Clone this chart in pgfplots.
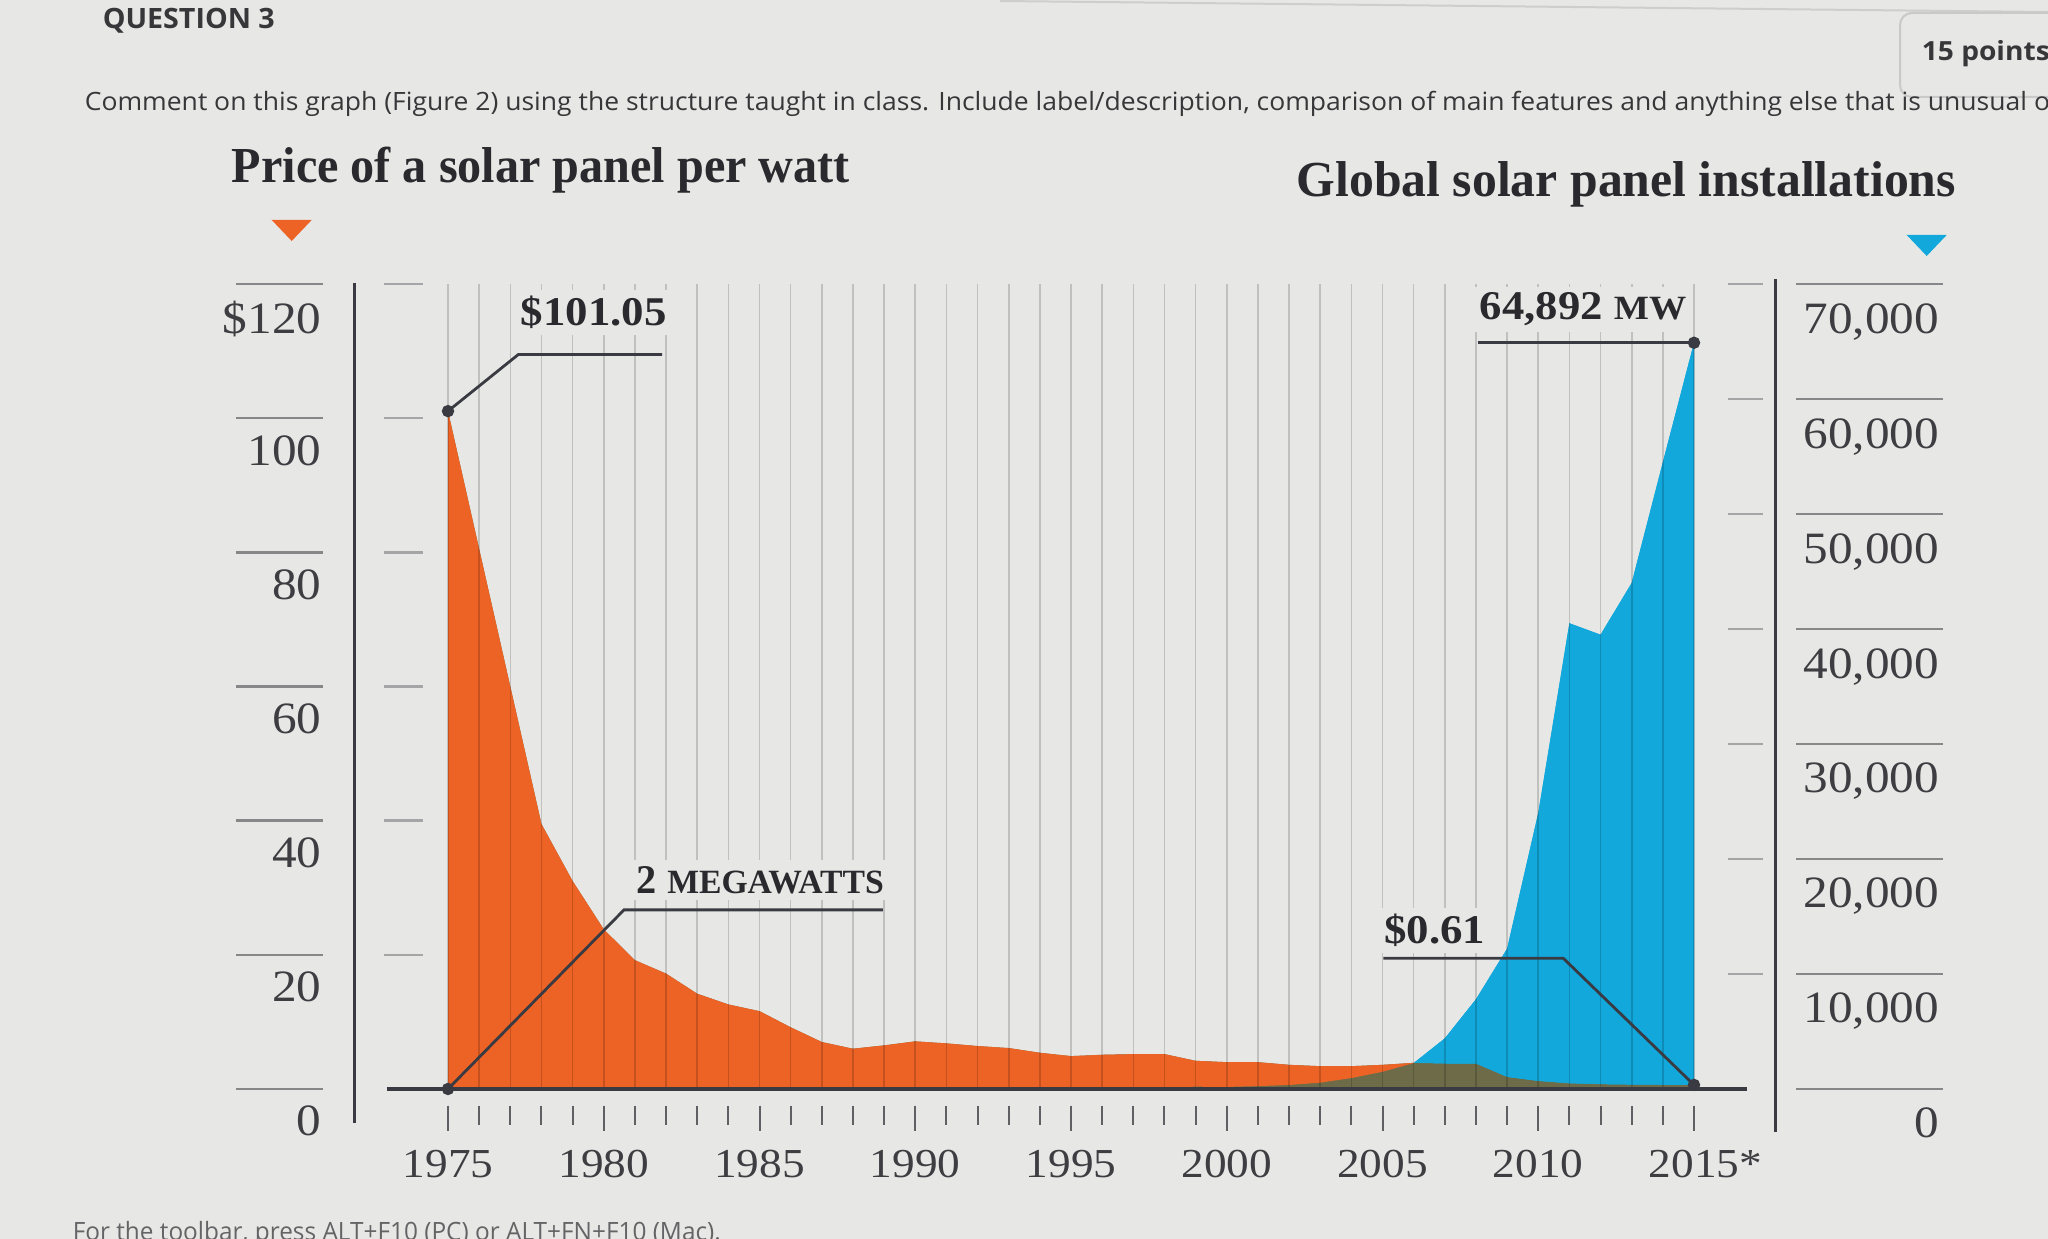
\documentclass[border=0pt]{standalone}
\usepackage{fontspec}
\setmainfont{Liberation Serif}
\newfontfamily\chartfont[FakeStretch=1.1]{Liberation Serif}
\newfontfamily\osans{Open Sans}
\usepackage{graphicx}
\usepackage{pgfplots}
\usepackage{pgfplotstable}
\usepgfplotslibrary{fillbetween}
\pgfplotsset{compat=1.18}

\definecolor{bg}{RGB}{231,232,230}
\definecolor{corange}{RGB}{237,99,37}
\definecolor{cblue}{RGB}{18,168,219}
\definecolor{colive}{RGB}{110,108,72}
\definecolor{cdark}{RGB}{58,58,66}
\definecolor{ctext}{RGB}{62,62,66}
\definecolor{ctitle}{RGB}{42,42,46}
\definecolor{ctick}{RGB}{135,135,138}
\definecolor{cmark}{RGB}{165,165,168}
\definecolor{cyear}{RGB}{95,95,100}
\definecolor{chead}{RGB}{55,55,58}

\pgfplotstableread{
year price mw
1975 101.05 2
1976 80.5 2.5
1977 60 3
1978 39.5 4
1979 31 5
1980 23.8 7
1981 19.2 8
1982 17.2 10
1983 14.2 13
1984 12.6 16
1985 11.6 20
1986 9.2 24
1987 7.0 28
1988 6.0 33
1989 6.5 40
1990 7.1 46
1991 6.8 55
1992 6.4 57
1993 6.1 60
1994 5.4 70
1995 4.9 80
1996 5.1 90
1997 5.2 125
1998 5.2 150
1999 4.2 200
2000 4.0 180
2001 4.0 250
2002 3.6 350
2003 3.4 550
2004 3.4 950
2005 3.6 1500
2006 3.9 2250
2007 3.8 4400
2008 3.8 7800
2009 1.8 12200
2010 1.2 24000
2011 0.85 40500
2012 0.72 39500
2013 0.66 44000
2014 0.63 54500
2015 0.61 64892
}\solardata

\begin{document}
\begin{tikzpicture}
\fill[bg] (0,0) rectangle (512pt,-309.75pt);

\begin{scope}[x=0.25pt,y=-0.25pt]
  \begin{scope}
  \clip (0,0) rectangle (2048,1239);
  % page furniture
  \draw[color={rgb,255:red,205;green,206;blue,205}, line width=0.5pt] (1000,1) -- (2048,12);
  \draw[color={rgb,255:red,200;green,201;blue,200}, line width=0.5pt, rounded corners=3pt]
     (2060,13) -- (1900,13) -- (1900,97) -- (2060,97);
  \node[anchor=base west, inner sep=0pt, text=chead] at (1921,61)
     {\resizebox{32pt}{\height}{\osans\bfseries\fontsize{6.6}{8}\selectfont 15 points}};
  \node[anchor=base west, inner sep=0pt, text=chead] at (84,111)
     {\resizebox{491.25pt}{\height}{\osans\fontsize{6.3}{8}\selectfont Comment on this graph (Figure 2) using the structure taught in class. Include label/description, comparison of main features and anything else that is unusual o}};
  \node[anchor=base west, inner sep=0pt, text={rgb,255:red,100;green,100;blue,102}] at (72,1241)
     {\resizebox{162pt}{\height}{\osans\fontsize{6.3}{8}\selectfont For the toolbar, press ALT+F10 (PC) or ALT+FN+F10 (Mac).}};
  \end{scope}
  \node[anchor=base west, inner sep=0pt, text=chead] at (102,29)
     {\resizebox{43pt}{\height}{\osans\bfseries\fontsize{7}{8}\selectfont QUESTION 3}};
  % titles
  \node[anchor=base west, inner sep=0pt, text=ctitle] at (231,183)
     {\resizebox{154.5pt}{\height}{\bfseries\fontsize{12.6}{14}\selectfont Price of a solar panel per watt}};
  \node[anchor=base west, inner sep=0pt, text=ctitle] at (1296,197)
     {\resizebox{164.75pt}{\height}{\bfseries\fontsize{12.6}{14}\selectfont Global solar panel installations}};
  % markers under titles
  \fill[corange] (271.7,220) -- (311.7,220) -- (291.7,241) -- cycle;
  \fill[cblue] (1906.7,235) -- (1946.7,235) -- (1926.7,256) -- cycle;
\end{scope}

% ---------- price axis (left) ----------
\begin{axis}[
  at={(88.6375pt,-272.25pt)}, anchor=south west,
  scale only axis, width=355.11pt, height=201.25pt,
  xmin=1972, xmax=2017.6, ymin=0, ymax=120,
  axis line style={draw=none},
  tick style={draw=none}, major tick length=0pt,
  xtick={1975,1980,...,2015},
  xticklabels={1975,1980,1985,1990,1995,2000,2005,2010,2015\rlap{*}},
  ytick={0,20,...,120},
  yticklabels={0,20,40,60,80,100,\$120},
  xticklabel style={anchor=north, inner sep=0pt, yshift=-15pt,
     font=\chartfont\fontsize{10.3}{12}\selectfont, text=ctext},
  yticklabel style={anchor=north east, inner sep=0pt, xshift=-8.1pt, yshift=-4.1pt,
     font=\chartfont\fontsize{11.2}{13}\selectfont, text=ctext},
  clip=false,
]
\addplot[draw=none, name path=P] table[x=year, y=price]{\solardata};
\addplot[draw=none, name path=B] table[x=year, y expr=\thisrow{mw}/583.3333]{\solardata};
\addplot[draw=none, name path=Z] coordinates {(1975,0) (2015,0)};
\addplot[fill=cblue, draw=none] fill between[of=B and Z, on layer=main];
\addplot[fill=colive, draw=none] fill between[of=P and Z, on layer=main];
\addplot[fill=corange, draw=none] fill between[of=P and B, split, on layer=main,
   every segment no 1/.style={fill=cblue}];

% year gridlines
\pgfplotsinvokeforeach{1975,...,2015}{
  \draw[black, opacity=0.17, line width=0.4pt] (axis cs:#1,0) -- (axis cs:#1,120);
}
% short marks inside the frame
\pgfplotsinvokeforeach{20,40,60,80,100,120}{
  \draw[cmark, line width=0.6pt] (axis cs:1972.95,#1) -- (axis cs:1974.2,#1);
}
% label rules on the left
\pgfplotsinvokeforeach{0,20,40,60,80,100,120}{
  \draw[ctick, line width=0.65pt] ([xshift=-29.7pt]axis cs:1972,#1) -- ([xshift=-7.95pt]axis cs:1972,#1);
}
% left axis line
\draw[cdark, line width=0.75pt] (axis cs:1972,120.2) -- (axis cs:1972,-5.1);
% baseline
\draw[cdark, line width=0.9pt] (axis cs:1973.03,0) -- (axis cs:2016.7,0);
% year ticks
\pgfplotsinvokeforeach{1975,...,2015}{
  \draw[cyear, line width=0.5pt] ([yshift=-4.15pt]axis cs:#1,0) -- ([yshift=-8.95pt]axis cs:#1,0);
}
\pgfplotsinvokeforeach{1975,1980,...,2015}{
  \draw[cyear, line width=0.5pt] ([yshift=-4.15pt]axis cs:#1,0) -- ([yshift=-10.6pt]axis cs:#1,0);
}

% annotation: $101.05
\addplot[cdark, line width=0.7pt] coordinates {(1975,101.05) (1977.26,109.5) (1981.87,109.5)};
\addplot[cdark, only marks, mark=*, mark size=1.35pt] coordinates {(1975,101.05)};
\node[anchor=base west, inner xsep=1.5pt, inner ysep=1.5pt, xshift=-1.5pt, fill=bg, text=ctitle,
   font=\chartfont\bfseries\fontsize{10.2}{12}\selectfont] at (axis cs:1977.31,113.8) {\$101.05};

% annotation: 2 MEGAWATTS
\addplot[cdark, line width=0.7pt] coordinates {(1975,0) (1980.65,26.7) (1988.96,26.7)};
\addplot[cdark, only marks, mark=*, mark size=1.35pt] coordinates {(1975,0)};
\node[anchor=base west, inner xsep=1.5pt, inner ysep=1.5pt, xshift=-1.5pt, fill=bg, text=ctitle,
   font=\chartfont\bfseries\fontsize{10.2}{12}\selectfont] at (axis cs:1981.04,29.2)
   {\resizebox{61.7pt}{\height}{2 {\fontsize{8.5}{10}\selectfont MEGAWATTS}}};

% annotation: $0.61
\addplot[cdark, line width=0.7pt] coordinates {(2015,0.61) (2010.8,19.5) (2005.03,19.5)};
\addplot[cdark, only marks, mark=*, mark size=1.35pt] coordinates {(2015,0.61)};
\node[anchor=base west, inner xsep=1.5pt, inner ysep=1.5pt, xshift=-1.5pt, fill=bg, text=ctitle,
   font=\chartfont\bfseries\fontsize{10.2}{12}\selectfont] at (axis cs:2005.03,21.7) {\$0.61};
\end{axis}

% ---------- installations axis (right) ----------
\begin{axis}[
  at={(88.6375pt,-272.25pt)}, anchor=south west,
  scale only axis, width=355.11pt, height=201.25pt,
  xmin=1972, xmax=2017.6, ymin=0, ymax=70000,
  axis line style={draw=none},
  tick style={draw=none}, major tick length=0pt,
  scaled y ticks=false,
  xtick=\empty,
  ytick={0,10000,20000,30000,40000,50000,60000,70000},
  yticklabels={0,{10,000},{20,000},{30,000},{40,000},{50,000},{60,000},{70,000}},
  yticklabel pos=right,
  yticklabel style={anchor=north east, inner sep=0pt, xshift=41.25pt, yshift=-4.6pt,
     font=\chartfont\fontsize{11.2}{13}\selectfont, text=ctext},
  clip=false,
]
\draw[cdark, line width=0.75pt] (axis cs:2017.6,70400) -- (axis cs:2017.6,-3730);
\pgfplotsinvokeforeach{0,10000,20000,30000,40000,50000,60000,70000}{
  \draw[ctick, line width=0.65pt] ([xshift=5.25pt]axis cs:2017.6,#1) -- ([xshift=42pt]axis cs:2017.6,#1);
}
\pgfplotsinvokeforeach{10000,20000,30000,40000,50000,60000,70000}{
  \draw[cmark, line width=0.6pt] (axis cs:2016.1,#1) -- (axis cs:2017.2,#1);
}
% annotation: 64,892 MW
\addplot[cdark, line width=0.7pt] coordinates {(2008.05,64892) (2015,64892)};
\addplot[cdark, only marks, mark=*, mark size=1.35pt] coordinates {(2015,64892)};
\node[anchor=base west, inner xsep=1.5pt, inner ysep=1.5pt, xshift=-1.5pt, fill=bg, text=ctitle,
   font=\chartfont\bfseries\fontsize{10.2}{12}\selectfont] at (axis cs:2008.1,66900)
   {\resizebox{51.6pt}{\height}{64,892 {\fontsize{8.5}{10}\selectfont MW}}};
\end{axis}

\pgfresetboundingbox
\path[use as bounding box] (0,0) rectangle (512pt,-309.75pt);
\end{tikzpicture}
\end{document}
